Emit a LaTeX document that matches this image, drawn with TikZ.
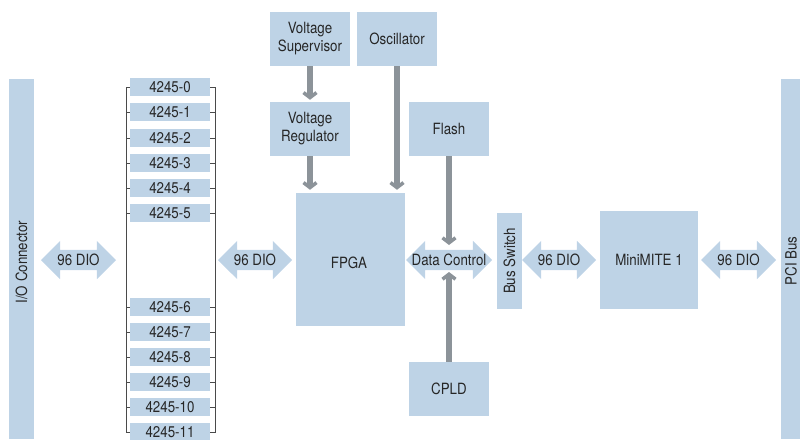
\documentclass[tikz,border=0pt]{standalone}
\usepackage{fontspec}
\setmainfont{TeX Gyre Heros}[FakeStretch=0.86]
\usetikzlibrary{shapes.arrows,arrows.meta}
\definecolor{blk}{HTML}{BED3E6}
\definecolor{grayarr}{HTML}{8C9399}
\definecolor{txt}{HTML}{262626}
\definecolor{brk}{HTML}{4A4A4A}
\begin{document}
\begin{tikzpicture}[x=1pt,y=-1pt,
  font=\fontsize{15.5}{18}\selectfont, text=txt,
  blkbox/.style={fill=blk, draw=none, inner sep=0pt, align=center},
  listbox/.style={blkbox, minimum width=80pt, minimum height=18pt},
  dbl/.style={shape=double arrow, fill=blk, draw=none, double arrow head extend=9pt,
     double arrow tip angle=90, inner xsep=0pt, inner ysep=10pt},
  garrow/.style={draw=grayarr, line width=6pt,
     -{Straight Barb[length=5pt,width=13pt,line width=3.5pt]}},
  bracket/.style={draw=brk, line width=0.9pt}]
\useasboundingbox (0,0) rectangle (800,439);

% bars
\node[blkbox, minimum width=25pt, minimum height=360pt] (io) at (21.5,259) {};
\node[rotate=90] at (21.5,262) {I/O Connector};
\node[blkbox, minimum width=22pt, minimum height=360pt] (pci) at (792,259) {};
\node[rotate=90] at (791,261) {PCI Bus};

% list of modules
\foreach \i/\yy in {0/87,1/112,2/138,3/163,4/188,5/213,6/307,7/332,8/357,9/382,10/407,11/432}
  \node[listbox] (b\i) at (170,\yy) {4245-\i};

% brackets
\draw[bracket] (b0.west) -- ++(-3,0) |- (b11.west);
\draw[bracket] (b0.east) -- ++(5,0) |- (b11.east);
\foreach \i in {1,...,10} {
  \draw[bracket] (b\i.west) -- ++(-3,0);
  \draw[bracket] (b\i.east) -- ++(5,0);
}

% blocks
\node[blkbox, minimum width=109pt, minimum height=133pt] (fpga) at (350.5,259.5) {};
\node at (349,263) {FPGA};
\node[blkbox, minimum width=80pt, minimum height=54pt] (vs) at (310,39) {Voltage\\Supervisor};
\node[blkbox, minimum width=80pt, minimum height=54pt] (osc) at (397,39) {Oscillator};
\node[blkbox, minimum width=80pt, minimum height=54pt] (vr) at (310,129) {Voltage\\Regulator};
\node[blkbox, minimum width=80pt, minimum height=54pt] (flash) at (449,129) {Flash};
\node[blkbox, minimum width=80pt, minimum height=54pt] (cpld) at (449,389) {CPLD};
\node[blkbox, minimum width=25pt, minimum height=96pt] (bs) at (509.5,261) {};
\node[rotate=90] at (bs) {Bus Switch};
\node[blkbox, minimum width=98pt, minimum height=98pt] (mm) at (649,260) {MiniMITE 1};

% double arrows
\node[dbl, minimum height=75pt] (a1) at (78.5,260) {};
\node at (a1) {96 DIO};
\node[dbl, minimum height=74pt] (a2) at (255,260) {};
\node at (a2) {96 DIO};
\node[dbl, minimum height=86pt] (dc) at (449,260) {};
\node at (dc) {Data Control};
\node[dbl, minimum height=74pt] (a3) at (559,260) {};
\node at (a3) {96 DIO};
\node[dbl, minimum height=75pt] (a4) at (738.5,260) {};
\node at (a4) {96 DIO};

% gray arrows
\draw[garrow, shorten >=2pt] (vs.south) -- (vr.north);
\draw[garrow, shorten >=3pt] (vr.south) -- (vr.south |- fpga.north);
\draw[garrow, shorten >=3pt] (osc.south) -- (osc.south |- fpga.north);
\draw[garrow, shorten >=15pt] (flash.south) -- (dc.center);
\draw[garrow, shorten >=12pt] (cpld.north) -- (dc.center);
\end{tikzpicture}
\end{document}
